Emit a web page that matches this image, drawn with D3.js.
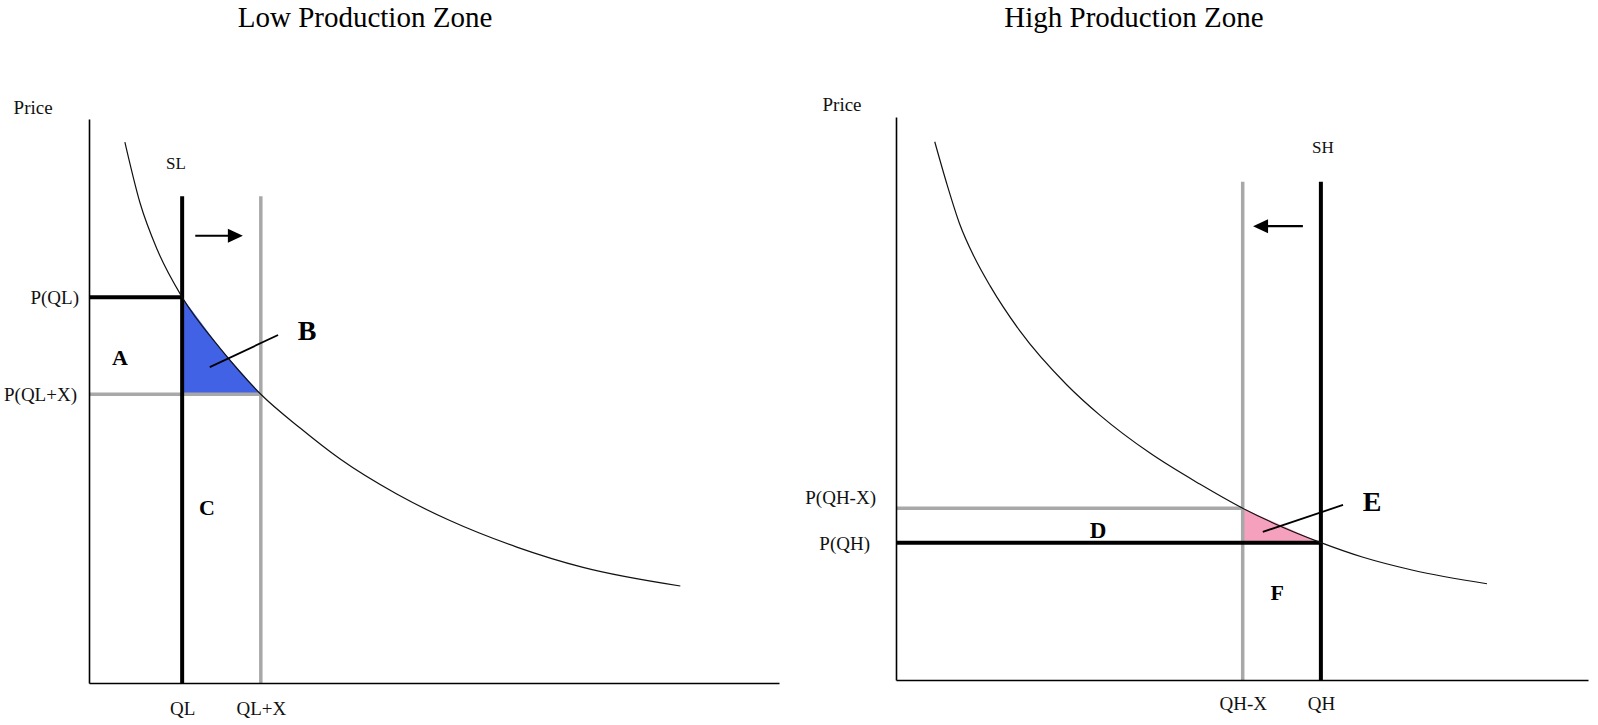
<!DOCTYPE html>
<html>
<head>
<meta charset="utf-8">
<script src="https://cdn.jsdelivr.net/npm/d3@7"></script>
<style>
  body { margin: 0; background: #fff; }
  svg { display: block; font-family: "Liberation Serif", "Times New Roman", serif; }
</style>
</head>
<body>
<svg id="chart" width="1598" height="725"></svg>
<script>
// quantity and price both on a 0-100 scale
const panelTitles = ["Low Production Zone", "High Production Zone"];
const axisLabel = "Price";

// demand curves
const lowCurveQ = [5.2, 7.4, 9.9, 13.5, 19.1, 24.9, 30.6, 36.4, 44.6, 52.3, 62.0, 71.6, 85.7];
const lowCurveP = [95.9, 85.1, 76.8, 68.4, 59.2, 51.2, 45.2, 39.7, 33.5, 28.8, 24.1, 20.5, 17.2];
const highCurveQ = [5.6, 7.4, 9.2, 11.4, 13.6, 17.9, 24.7, 29.5, 36.7, 43.9, 50.1, 61.4, 67.5, 74.7, 85.4];
const highCurveP = [95.6, 87.9, 81.0, 74.9, 70.0, 62.0, 52.4, 47.0, 40.3, 34.8, 30.5, 24.4, 21.8, 19.5, 17.1];

// supply quantities and matching prices
const lowQuantities = [13.5, 24.9];
const lowPrices = [68.4, 51.2];
const lowQuantityLabels = ["QL", "QL+X"];
const lowPriceLabels = ["P(QL)", "P(QL+X)"];
const lowSupplyTop = 86.3;
const lowSupplyName = "SL";
const lowSupplyNameAt = [12.6, 92.2];

const highQuantities = [50.1, 61.4];
const highPrices = [30.5, 24.4];
const highQuantityLabels = ["QH-X", "QH"];
const highPriceLabels = ["P(QH-X)", "P(QH)"];
const highSupplyTop = 88.5;
const highSupplyName = "SH";
const highSupplyNameAt = [61.7, 94.7];

// shift arrows, pointer lines, area letters
const lowArrowQ = [15.4, 22.3];
const lowArrowP = 79.3;
const highArrowQ = [58.8, 51.6];
const highArrowP = 80.6;

const lowPointerQ = [17.5, 27.4];
const lowPointerP = [56.0, 61.7];
const highPointerQ = [53.0, 64.6];
const highPointerP = [26.3, 31.1];

const lowAreaNames = ["A", "B", "C"];
const lowAreaQ = [4.5, 31.6, 17.1];
const lowAreaP = [57.8, 62.6, 31.2];
const highAreaNames = ["D", "E", "F"];
const highAreaQ = [29.2, 68.8, 55.1];
const highAreaP = [26.6, 31.8, 15.5];

const lowPriceAxisAt = [-8.1, 102.0];
const highPriceAxisAt = [-7.8, 102.3];

const BLACK = "#000";
const GREY = "#a8a8a8";

const panels = [
    {
        title: panelTitles[0], titleX: 365,
        xRange: [89, 779], yRange: [683, 119],
        curveQ: lowCurveQ, curveP: lowCurveP,
        quantities: lowQuantities, prices: lowPrices,
        quantityLabels: lowQuantityLabels, priceLabels: lowPriceLabels,
        lineColors: [BLACK, GREY],
        supplyTop: lowSupplyTop, supplyName: lowSupplyName, supplyNameAt: lowSupplyNameAt,
        arrowQ: lowArrowQ, arrowP: lowArrowP,
        pointerQ: lowPointerQ, pointerP: lowPointerP,
        areaNames: lowAreaNames, areaQ: lowAreaQ, areaP: lowAreaP, areaSizes: [22, 28, 22],
        fill: "#4262e6",
        priceAxisAt: lowPriceAxisAt,
        priceLabelShift: [[-10, 0], [-12, 0]],
        tickPadding: 19
    },
    {
        title: panelTitles[1], titleX: 1134,
        xRange: [896, 1588], yRange: [680, 117],
        curveQ: highCurveQ, curveP: highCurveP,
        quantities: highQuantities, prices: highPrices,
        quantityLabels: highQuantityLabels, priceLabels: highPriceLabels,
        lineColors: [GREY, BLACK],
        supplyTop: highSupplyTop, supplyName: highSupplyName, supplyNameAt: highSupplyNameAt,
        arrowQ: highArrowQ, arrowP: highArrowP,
        pointerQ: highPointerQ, pointerP: highPointerP,
        areaNames: highAreaNames, areaQ: highAreaQ, areaP: highAreaP, areaSizes: [23, 28, 22],
        fill: "#f5a0bd",
        priceAxisAt: highPriceAxisAt,
        priceLabelShift: [[-20, -11], [-26, 0]],
        tickPadding: 17
    }
];

const svg = d3.select("#chart");

svg.selectAll("text.title")
    .data(panels)
    .enter()
    .append("text")
    .attr("class", "title")
    .attr("x", d => d.titleX)
    .attr("y", 27)
    .attr("text-anchor", "middle")
    .style("font-size", "29px")
    .text(d => d.title);

panels.forEach(drawPanel);

function drawPanel(p) {
    const x = d3.scaleLinear().domain([0, 100]).range(p.xRange);
    const y = d3.scaleLinear().domain([0, 100]).range(p.yRange);
    const g = svg.append("g");

    const curve = p.curveQ.map((q, i) => [q, p.curveP[i]]);
    const line = d3.line()
        .x(d => x(d[0]))
        .y(d => y(d[1]))
        .curve(d3.curveMonotoneX);

    // welfare triangle between the two supply levels
    const qMin = d3.min(p.quantities), qMax = d3.max(p.quantities);
    const pMin = d3.min(p.prices);
    const edge = curve.filter(d => d[0] >= qMin && d[0] <= qMax);
    edge.push([qMin, pMin]);
    g.append("path")
        .attr("d", d3.line().x(d => x(d[0])).y(d => y(d[1]))(edge) + "Z")
        .attr("fill", p.fill);

    // grey lines go first so the black ones sit on top
    const order = p.quantities.map((q, i) => i)
        .sort((a, b) => (p.lineColors[a] === GREY ? -1 : 1) - (p.lineColors[b] === GREY ? -1 : 1));

    order.forEach(i => {
        const w = p.lineColors[i] === GREY ? 3.5 : 4;
        g.append("line")
            .attr("x1", x(0)).attr("x2", x(p.quantities[i]))
            .attr("y1", y(p.prices[i])).attr("y2", y(p.prices[i]))
            .attr("stroke", p.lineColors[i]).attr("stroke-width", w);
        g.append("line")
            .attr("x1", x(p.quantities[i])).attr("x2", x(p.quantities[i]))
            .attr("y1", y(0)).attr("y2", y(p.supplyTop))
            .attr("stroke", p.lineColors[i]).attr("stroke-width", w);
    });

    g.append("path")
        .attr("d", line(curve))
        .attr("fill", "none")
        .attr("stroke", "#111")
        .attr("stroke-width", 1.2);

    // axes: quantity labels below, price labels at the left
    const xAxis = g.append("g")
        .attr("transform", "translate(0," + y(0) + ")")
        .call(d3.axisBottom(x)
            .tickValues(p.quantities)
            .tickFormat((d, i) => p.quantityLabels[i])
            .tickSize(0)
            .tickSizeOuter(0)
            .tickPadding(p.tickPadding));
    xAxis.select(".domain").attr("stroke-width", 1.6);
    xAxis.selectAll("text")
        .attr("fill", "#111")
        .style("font-family", "Liberation Serif, serif")
        .style("font-size", "19px");

    const yAxis = g.append("g")
        .attr("transform", "translate(" + x(0) + ",0)")
        .call(d3.axisLeft(y)
            .tickValues(p.prices)
            .tickFormat((d, i) => p.priceLabels[i])
            .tickSize(0)
            .tickSizeOuter(0)
            .tickPadding(0));
    yAxis.select(".domain").attr("stroke-width", 1.6);
    yAxis.selectAll(".tick text")
        .attr("fill", "#111")
        .attr("x", (d, i) => p.priceLabelShift[i][0])
        .attr("dy", (d, i) => (p.priceLabelShift[i][1] + 6.5) + "px")
        .style("font-family", "Liberation Serif, serif")
        .style("font-size", "19px");

    g.append("text")
        .attr("x", x(p.priceAxisAt[0]))
        .attr("y", y(p.priceAxisAt[1]))
        .attr("dy", "0.35em")
        .attr("text-anchor", "middle")
        .style("font-size", "19px")
        .attr("fill", "#111")
        .text(axisLabel);

    g.append("text")
        .attr("x", x(p.supplyNameAt[0]))
        .attr("y", y(p.supplyNameAt[1]))
        .attr("dy", "0.35em")
        .attr("text-anchor", "middle")
        .style("font-size", "17px")
        .attr("fill", "#111")
        .text(p.supplyName);

    // shift arrow
    const ax0 = x(p.arrowQ[0]), ax1 = x(p.arrowQ[1]), ay = y(p.arrowP);
    const dir = ax1 > ax0 ? 1 : -1;
    g.append("line")
        .attr("x1", ax0).attr("x2", ax1 - dir * 12)
        .attr("y1", ay).attr("y2", ay)
        .attr("stroke", BLACK).attr("stroke-width", 2.2);
    g.append("path")
        .attr("d", "M" + ax1 + "," + ay +
            "L" + (ax1 - dir * 15) + "," + (ay - 7) +
            "L" + (ax1 - dir * 15) + "," + (ay + 7) + "Z")
        .attr("fill", BLACK);

    // pointer to the triangle
    g.append("line")
        .attr("x1", x(p.pointerQ[0])).attr("y1", y(p.pointerP[0]))
        .attr("x2", x(p.pointerQ[1])).attr("y2", y(p.pointerP[1]))
        .attr("stroke", BLACK).attr("stroke-width", 1.8);

    g.selectAll("text.area")
        .data(p.areaNames)
        .enter()
        .append("text")
        .attr("class", "area")
        .attr("x", (d, i) => x(p.areaQ[i]))
        .attr("y", (d, i) => y(p.areaP[i]))
        .attr("dy", "0.35em")
        .attr("text-anchor", "middle")
        .style("font-weight", "bold")
        .style("font-size", (d, i) => p.areaSizes[i] + "px")
        .text(d => d);
}
</script>
</body>
</html>
